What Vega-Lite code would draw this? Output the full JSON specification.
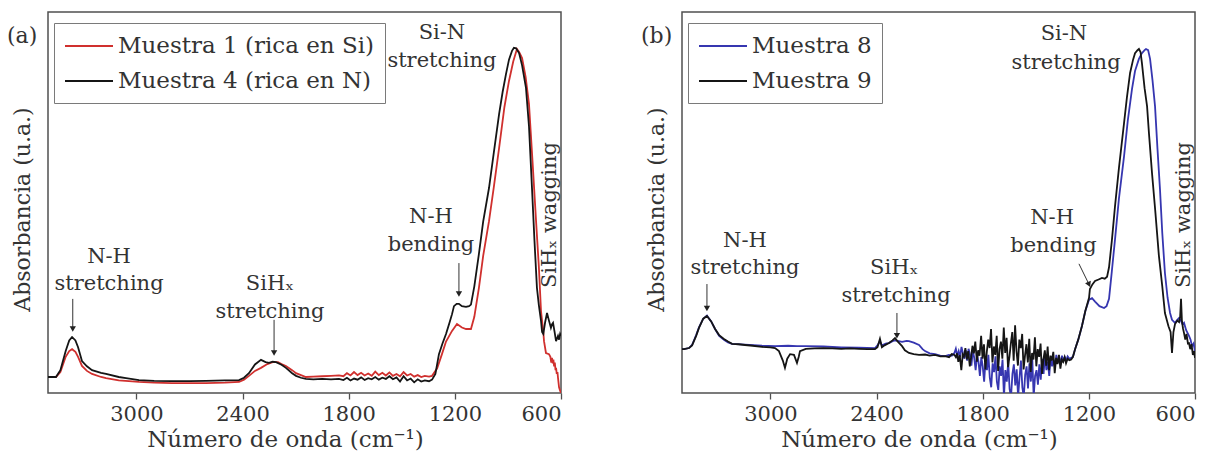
{
  "$schema": "https://vega.github.io/schema/vega-lite/v6.json",
  "background": "white",
  "padding": {"left": 6, "top": 11, "right": 8, "bottom": 4},
  "config": {
    "font": "DejaVu Serif",
    "view": {"stroke": "#505050", "strokeWidth": 1.5},
    "axis": {"grid": false, "labelFont": "DejaVu Serif", "titleFont": "DejaVu Serif", "labelColor": "#333333", "titleColor": "#333333", "titleFontWeight": "normal"},
    "axisX": {"domain": false, "tickColor": "#505050", "tickSize": 6, "tickWidth": 1.3, "labelFontSize": 21, "labelPadding": 4, "titleFontSize": 23, "titlePadding": 4, "format": "d", "titleX": 237, "titleAlign": "center"},
    "axisY": {"domain": false, "ticks": false, "labels": false, "titleFontSize": 22, "titlePadding": 14, "titleY": 197},
    "legend": {
      "orient": "none", "legendX": 6, "legendY": 11, "padding": 10,
      "strokeColor": "#7a7a7a", "fillColor": "white", "cornerRadius": 0,
      "symbolType": "M-2,0H2", "symbolSize": 576, "symbolStrokeWidth": 2, "symbolOffset": 12,
      "labelOffset": 16, "labelFont": "DejaVu Serif", "labelFontSize": 23, "labelColor": "#333333",
      "labelLimit": 400, "rowPadding": 10
    },
    "title": {"font": "DejaVu Serif", "fontSize": 22, "fontWeight": "normal", "color": "#333333", "anchor": "start", "frame": "group"},
    "concat": {"spacing": 77}
  },
  "resolve": {"scale": {"color": "independent", "x": "independent", "y": "independent"}, "legend": {"color": "independent"}},
  "datasets": {
    "m1": [
      {"nu":3500,"abs":0.042},{"nu":3455,"abs":0.042},{"nu":3430,"abs":0.055},{"nu":3400,"abs":0.095},{"nu":3380,"abs":0.11},{"nu":3364,"abs":0.115},{"nu":3345,"abs":0.108},{"nu":3330,"abs":0.095},{"nu":3308,"abs":0.071},{"nu":3280,"abs":0.058},{"nu":3251,"abs":0.05},{"nu":3200,"abs":0.042},{"nu":3172,"abs":0.039},{"nu":3100,"abs":0.033},{"nu":2986,"abs":0.029},{"nu":2900,"abs":0.027},{"nu":2800,"abs":0.026},{"nu":2700,"abs":0.026},{"nu":2607,"abs":0.026},{"nu":2500,"abs":0.027},{"nu":2420,"abs":0.029},{"nu":2392,"abs":0.035},{"nu":2364,"abs":0.045},{"nu":2330,"abs":0.058},{"nu":2296,"abs":0.066},{"nu":2260,"abs":0.076},{"nu":2230,"abs":0.081},{"nu":2200,"abs":0.081},{"nu":2180,"abs":0.076},{"nu":2155,"abs":0.071},{"nu":2120,"abs":0.06},{"nu":2098,"abs":0.052},{"nu":2070,"abs":0.047},{"nu":2042,"abs":0.042},{"nu":2000,"abs":0.043},{"nu":1950,"abs":0.044},{"nu":1900,"abs":0.045},{"nu":1855,"abs":0.046},
      {"nu":1830,"abs":0.044},{"nu":1810,"abs":0.052},{"nu":1790,"abs":0.046},{"nu":1770,"abs":0.055},{"nu":1750,"abs":0.047},{"nu":1730,"abs":0.053},{"nu":1710,"abs":0.046},{"nu":1690,"abs":0.051},{"nu":1670,"abs":0.045},{"nu":1650,"abs":0.056},{"nu":1630,"abs":0.047},{"nu":1610,"abs":0.053},{"nu":1590,"abs":0.046},{"nu":1570,"abs":0.054},{"nu":1550,"abs":0.045},{"nu":1530,"abs":0.05},{"nu":1510,"abs":0.044},{"nu":1490,"abs":0.055},{"nu":1470,"abs":0.046},{"nu":1450,"abs":0.05},{"nu":1430,"abs":0.043},{"nu":1410,"abs":0.047},{"nu":1390,"abs":0.042},{"nu":1370,"abs":0.045},{"nu":1346,"abs":0.043},
      {"nu":1329,"abs":0.045},{"nu":1300,"abs":0.065},{"nu":1273,"abs":0.102},{"nu":1250,"abs":0.135},{"nu":1216,"abs":0.163},{"nu":1188,"abs":0.181},{"nu":1160,"abs":0.172},{"nu":1137,"abs":0.168},{"nu":1109,"abs":0.168},{"nu":1090,"abs":0.2},{"nu":1064,"abs":0.276},{"nu":1040,"abs":0.36},{"nu":1007,"abs":0.451},{"nu":980,"abs":0.54},{"nu":950,"abs":0.643},{"nu":920,"abs":0.75},{"nu":894,"abs":0.819},{"nu":870,"abs":0.87},{"nu":854,"abs":0.895},{"nu":849,"abs":0.903},{"nu":837,"abs":0.895},{"nu":820,"abs":0.879},{"nu":800,"abs":0.83},{"nu":781,"abs":0.759},{"nu":760,"abs":0.6},{"nu":741,"abs":0.451},{"nu":725,"abs":0.33},{"nu":713,"abs":0.215},{"nu":700,"abs":0.16},{"nu":696,"abs":0.136},{"nu":685,"abs":0.105},{"nu":668,"abs":0.102},{"nu":660,"abs":0.095},{"nu":655,"abs":0.08},{"nu":651,"abs":0.092},{"nu":647,"abs":0.078},{"nu":643,"abs":0.088},{"nu":639,"abs":0.07},{"nu":635,"abs":0.08},{"nu":631,"abs":0.06},{"nu":628,"abs":0.066},{"nu":624,"abs":0.05},{"nu":620,"abs":0.055},{"nu":617,"abs":0.04},{"nu":611,"abs":0.015},{"nu":605,"abs":0.006},{"nu":600,"abs":0.0}
    ],
    "m4": [
      {"nu":3500,"abs":0.042},{"nu":3455,"abs":0.042},{"nu":3430,"abs":0.06},{"nu":3400,"abs":0.11},{"nu":3380,"abs":0.138},{"nu":3364,"abs":0.147},{"nu":3345,"abs":0.138},{"nu":3330,"abs":0.12},{"nu":3308,"abs":0.084},{"nu":3280,"abs":0.07},{"nu":3251,"abs":0.06},{"nu":3200,"abs":0.053},{"nu":3172,"abs":0.05},{"nu":3100,"abs":0.042},{"nu":3059,"abs":0.039},{"nu":2986,"abs":0.034},{"nu":2900,"abs":0.032},{"nu":2800,"abs":0.031},{"nu":2700,"abs":0.031},{"nu":2607,"abs":0.032},{"nu":2500,"abs":0.033},{"nu":2420,"abs":0.034},{"nu":2392,"abs":0.04},{"nu":2364,"abs":0.052},{"nu":2330,"abs":0.075},{"nu":2296,"abs":0.087},{"nu":2270,"abs":0.081},{"nu":2251,"abs":0.079},{"nu":2230,"abs":0.082},{"nu":2211,"abs":0.081},{"nu":2180,"abs":0.074},{"nu":2155,"abs":0.066},{"nu":2120,"abs":0.052},{"nu":2098,"abs":0.045},{"nu":2070,"abs":0.04},{"nu":2042,"abs":0.037},{"nu":2000,"abs":0.036},{"nu":1950,"abs":0.037},{"nu":1900,"abs":0.036},{"nu":1855,"abs":0.037},
      {"nu":1830,"abs":0.034},{"nu":1810,"abs":0.04},{"nu":1790,"abs":0.033},{"nu":1770,"abs":0.038},{"nu":1750,"abs":0.035},{"nu":1730,"abs":0.041},{"nu":1710,"abs":0.034},{"nu":1690,"abs":0.039},{"nu":1670,"abs":0.036},{"nu":1650,"abs":0.042},{"nu":1630,"abs":0.035},{"nu":1610,"abs":0.04},{"nu":1590,"abs":0.037},{"nu":1570,"abs":0.044},{"nu":1550,"abs":0.036},{"nu":1530,"abs":0.041},{"nu":1510,"abs":0.03},{"nu":1490,"abs":0.044},{"nu":1470,"abs":0.033},{"nu":1450,"abs":0.038},{"nu":1430,"abs":0.028},{"nu":1410,"abs":0.036},{"nu":1390,"abs":0.03},{"nu":1370,"abs":0.033},{"nu":1346,"abs":0.031},
      {"nu":1329,"abs":0.035},{"nu":1310,"abs":0.05},{"nu":1290,"abs":0.102},{"nu":1270,"abs":0.13},{"nu":1250,"abs":0.155},{"nu":1230,"abs":0.185},{"nu":1216,"abs":0.207},{"nu":1205,"abs":0.228},{"nu":1190,"abs":0.234},{"nu":1177,"abs":0.234},{"nu":1160,"abs":0.228},{"nu":1137,"abs":0.226},{"nu":1120,"abs":0.228},{"nu":1109,"abs":0.232},{"nu":1090,"abs":0.28},{"nu":1064,"abs":0.365},{"nu":1040,"abs":0.45},{"nu":1007,"abs":0.538},{"nu":980,"abs":0.63},{"nu":950,"abs":0.732},{"nu":930,"abs":0.79},{"nu":911,"abs":0.837},{"nu":894,"abs":0.875},{"nu":877,"abs":0.898},{"nu":866,"abs":0.906},{"nu":854,"abs":0.905},{"nu":837,"abs":0.892},{"nu":820,"abs":0.86},{"nu":798,"abs":0.801},{"nu":781,"abs":0.7},{"nu":764,"abs":0.538},{"nu":750,"abs":0.4},{"nu":736,"abs":0.276},{"nu":725,"abs":0.23},{"nu":713,"abs":0.189},{"nu":707,"abs":0.16},{"nu":700,"abs":0.155},{"nu":690,"abs":0.185},{"nu":679,"abs":0.21},{"nu":668,"abs":0.19},{"nu":657,"abs":0.171},{"nu":651,"abs":0.18},{"nu":645,"abs":0.184},{"nu":636,"abs":0.16},{"nu":628,"abs":0.136},{"nu":617,"abs":0.15},{"nu":611,"abs":0.14},{"nu":605,"abs":0.155},{"nu":600,"abs":0.15}
    ],
    "m8": [
      {"nu":3500,"abs":0.115},{"nu":3489,"abs":0.115},{"nu":3460,"abs":0.118},{"nu":3443,"abs":0.126},{"nu":3420,"abs":0.152},{"nu":3404,"abs":0.172},{"nu":3380,"abs":0.195},{"nu":3359,"abs":0.203},{"nu":3335,"abs":0.188},{"nu":3313,"abs":0.168},{"nu":3290,"abs":0.15},{"nu":3263,"abs":0.14},{"nu":3240,"abs":0.133},{"nu":3217,"abs":0.129},{"nu":3144,"abs":0.127},{"nu":3048,"abs":0.124},{"nu":2974,"abs":0.123},{"nu":2900,"abs":0.124},{"nu":2850,"abs":0.123},{"nu":2800,"abs":0.123},{"nu":2700,"abs":0.122},{"nu":2600,"abs":0.12},{"nu":2500,"abs":0.119},{"nu":2409,"abs":0.118},{"nu":2395,"abs":0.125},{"nu":2381,"abs":0.136},{"nu":2370,"abs":0.125},{"nu":2345,"abs":0.13},{"nu":2330,"abs":0.131},{"nu":2310,"abs":0.136},{"nu":2296,"abs":0.138},{"nu":2275,"abs":0.136},{"nu":2256,"abs":0.134},{"nu":2230,"abs":0.137},{"nu":2217,"abs":0.136},{"nu":2190,"abs":0.132},{"nu":2160,"abs":0.126},{"nu":2140,"abs":0.115},{"nu":2126,"abs":0.11},{"nu":2100,"abs":0.104},{"nu":2070,"abs":0.102},{"nu":2040,"abs":0.098},{"nu":2013,"abs":0.097},{"nu":1991,"abs":0.1},{"nu":1975,"abs":0.098},
      {"nu":1960,"abs":0.105},{"nu":1952,"abs":0.116},{"nu":1944,"abs":0.098},{"nu":1936,"abs":0.11},{"nu":1928,"abs":0.094},{"nu":1920,"abs":0.121},{"nu":1912,"abs":0.104},{"nu":1904,"abs":0.09},{"nu":1896,"abs":0.112},{"nu":1888,"abs":0.085},{"nu":1880,"abs":0.116},{"nu":1872,"abs":0.1},{"nu":1864,"abs":0.072},{"nu":1856,"abs":0.112},{"nu":1848,"abs":0.092},{"nu":1840,"abs":0.06},{"nu":1832,"abs":0.1},{"nu":1824,"abs":0.082},{"nu":1816,"abs":0.045},{"nu":1808,"abs":0.094},{"nu":1800,"abs":0.07},{"nu":1792,"abs":0.03},{"nu":1784,"abs":0.086},{"nu":1776,"abs":0.06},{"nu":1768,"abs":0.1},{"nu":1760,"abs":0.04},{"nu":1752,"abs":0.015},{"nu":1744,"abs":0.078},{"nu":1736,"abs":0.055},{"nu":1728,"abs":0.096},{"nu":1720,"abs":0.03},{"nu":1712,"abs":0.008},{"nu":1704,"abs":0.07},{"nu":1696,"abs":0.045},{"nu":1688,"abs":0.088},{"nu":1680,"abs":-0.01},{"nu":1672,"abs":0.06},{"nu":1664,"abs":0.03},{"nu":1656,"abs":0.082},{"nu":1648,"abs":0.01},{"nu":1640,"abs":-0.01},{"nu":1632,"abs":0.05},{"nu":1624,"abs":0.075},{"nu":1616,"abs":0.02},{"nu":1608,"abs":0.062},{"nu":1600,"abs":-0.01},{"nu":1592,"abs":0.04},{"nu":1584,"abs":0.085},{"nu":1576,"abs":0.015},{"nu":1568,"abs":-0.01},{"nu":1560,"abs":0.048},{"nu":1552,"abs":0.07},{"nu":1544,"abs":0.012},{"nu":1536,"abs":0.078},{"nu":1528,"abs":0.03},{"nu":1520,"abs":0.092},{"nu":1512,"abs":-0.01},{"nu":1504,"abs":0.045},{"nu":1496,"abs":0.06},{"nu":1488,"abs":0.022},{"nu":1480,"abs":0.075},{"nu":1472,"abs":0.035},{"nu":1464,"abs":0.09},{"nu":1456,"abs":0.05},{"nu":1448,"abs":0.1},{"nu":1440,"abs":0.06},{"nu":1432,"abs":0.082},{"nu":1424,"abs":0.045},{"nu":1416,"abs":0.095},{"nu":1408,"abs":0.07},{"nu":1400,"abs":0.088},{"nu":1392,"abs":0.068},{"nu":1384,"abs":0.1},{"nu":1376,"abs":0.08},{"nu":1368,"abs":0.094},{"nu":1360,"abs":0.076},{"nu":1352,"abs":0.098},{"nu":1344,"abs":0.085},{"nu":1336,"abs":0.094},{"nu":1328,"abs":0.086},{"nu":1320,"abs":0.096},{"nu":1310,"abs":0.09},{"nu":1300,"abs":0.092},{"nu":1290,"abs":0.095},
      {"nu":1278,"abs":0.115},{"nu":1260,"abs":0.14},{"nu":1239,"abs":0.176},{"nu":1220,"abs":0.215},{"nu":1199,"abs":0.245},{"nu":1182,"abs":0.249},{"nu":1165,"abs":0.24},{"nu":1140,"abs":0.228},{"nu":1114,"abs":0.223},{"nu":1100,"abs":0.228},{"nu":1086,"abs":0.247},{"nu":1070,"abs":0.32},{"nu":1052,"abs":0.404},{"nu":1030,"abs":0.51},{"nu":1001,"abs":0.622},{"nu":980,"abs":0.715},{"nu":956,"abs":0.798},{"nu":939,"abs":0.845},{"nu":917,"abs":0.877},{"nu":900,"abs":0.892},{"nu":885,"abs":0.9},{"nu":877,"abs":0.903},{"nu":865,"abs":0.9},{"nu":854,"abs":0.877},{"nu":840,"abs":0.82},{"nu":826,"abs":0.753},{"nu":812,"abs":0.64},{"nu":798,"abs":0.535},{"nu":785,"abs":0.42},{"nu":770,"abs":0.315},{"nu":755,"abs":0.25},{"nu":741,"abs":0.21},{"nu":730,"abs":0.192},{"nu":713,"abs":0.184},{"nu":700,"abs":0.192},{"nu":690,"abs":0.197},{"nu":680,"abs":0.19},{"nu":670,"abs":0.18},{"nu":662,"abs":0.184},{"nu":650,"abs":0.165},{"nu":634,"abs":0.15},{"nu":625,"abs":0.14},{"nu":617,"abs":0.123},{"nu":608,"abs":0.13},{"nu":600,"abs":0.11}
    ],
    "m9": [
      {"nu":3500,"abs":0.115},{"nu":3489,"abs":0.115},{"nu":3460,"abs":0.118},{"nu":3443,"abs":0.125},{"nu":3420,"abs":0.15},{"nu":3404,"abs":0.171},{"nu":3380,"abs":0.195},{"nu":3359,"abs":0.202},{"nu":3335,"abs":0.188},{"nu":3313,"abs":0.168},{"nu":3290,"abs":0.152},{"nu":3263,"abs":0.142},{"nu":3240,"abs":0.135},{"nu":3217,"abs":0.129},{"nu":3180,"abs":0.128},{"nu":3144,"abs":0.126},{"nu":3100,"abs":0.124},{"nu":3048,"abs":0.121},{"nu":3000,"abs":0.12},{"nu":2974,"abs":0.118},{"nu":2952,"abs":0.11},{"nu":2930,"abs":0.085},{"nu":2918,"abs":0.066},{"nu":2905,"abs":0.09},{"nu":2889,"abs":0.102},{"nu":2867,"abs":0.1},{"nu":2850,"abs":0.079},{"nu":2840,"abs":0.095},{"nu":2833,"abs":0.11},{"nu":2800,"abs":0.116},{"nu":2750,"abs":0.117},{"nu":2700,"abs":0.118},{"nu":2650,"abs":0.117},{"nu":2600,"abs":0.116},{"nu":2550,"abs":0.117},{"nu":2500,"abs":0.116},{"nu":2450,"abs":0.115},{"nu":2409,"abs":0.115},{"nu":2395,"abs":0.12},{"nu":2381,"abs":0.142},{"nu":2370,"abs":0.12},{"nu":2355,"abs":0.125},{"nu":2330,"abs":0.131},{"nu":2310,"abs":0.138},{"nu":2296,"abs":0.144},{"nu":2280,"abs":0.135},{"nu":2256,"abs":0.123},{"nu":2240,"abs":0.112},{"nu":2217,"abs":0.105},{"nu":2190,"abs":0.102},{"nu":2160,"abs":0.1},{"nu":2126,"abs":0.101},{"nu":2100,"abs":0.098},{"nu":2070,"abs":0.1},{"nu":2040,"abs":0.096},{"nu":2013,"abs":0.097},{"nu":1990,"abs":0.094},{"nu":1975,"abs":0.102},
      {"nu":1960,"abs":0.1},{"nu":1952,"abs":0.094},{"nu":1945,"abs":0.104},{"nu":1938,"abs":0.082},{"nu":1930,"abs":0.099},{"nu":1921,"abs":0.06},{"nu":1913,"abs":0.101},{"nu":1906,"abs":0.096},{"nu":1898,"abs":0.118},{"nu":1890,"abs":0.088},{"nu":1882,"abs":0.11},{"nu":1873,"abs":0.07},{"nu":1866,"abs":0.092},{"nu":1858,"abs":0.124},{"nu":1850,"abs":0.104},{"nu":1842,"abs":0.135},{"nu":1833,"abs":0.082},{"nu":1826,"abs":0.112},{"nu":1818,"abs":0.098},{"nu":1809,"abs":0.15},{"nu":1801,"abs":0.09},{"nu":1793,"abs":0.128},{"nu":1785,"abs":0.062},{"nu":1777,"abs":0.108},{"nu":1769,"abs":0.14},{"nu":1761,"abs":0.118},{"nu":1753,"abs":0.168},{"nu":1745,"abs":0.08},{"nu":1737,"abs":0.122},{"nu":1729,"abs":0.1},{"nu":1721,"abs":0.15},{"nu":1713,"abs":0.058},{"nu":1705,"abs":0.115},{"nu":1697,"abs":0.135},{"nu":1689,"abs":0.09},{"nu":1681,"abs":0.172},{"nu":1673,"abs":0.105},{"nu":1665,"abs":0.145},{"nu":1657,"abs":0.068},{"nu":1649,"abs":0.095},{"nu":1641,"abs":0.13},{"nu":1633,"abs":0.16},{"nu":1625,"abs":0.085},{"nu":1617,"abs":0.178},{"nu":1609,"abs":0.11},{"nu":1601,"abs":0.072},{"nu":1593,"abs":0.14},{"nu":1585,"abs":0.118},{"nu":1577,"abs":0.155},{"nu":1569,"abs":0.062},{"nu":1561,"abs":0.098},{"nu":1553,"abs":0.128},{"nu":1545,"abs":0.08},{"nu":1537,"abs":0.142},{"nu":1529,"abs":0.055},{"nu":1521,"abs":0.105},{"nu":1513,"abs":0.088},{"nu":1505,"abs":0.146},{"nu":1497,"abs":0.07},{"nu":1489,"abs":0.115},{"nu":1481,"abs":0.095},{"nu":1473,"abs":0.13},{"nu":1465,"abs":0.05},{"nu":1457,"abs":0.088},{"nu":1449,"abs":0.112},{"nu":1441,"abs":0.072},{"nu":1433,"abs":0.122},{"nu":1425,"abs":0.06},{"nu":1417,"abs":0.098},{"nu":1409,"abs":0.085},{"nu":1401,"abs":0.108},{"nu":1393,"abs":0.052},{"nu":1385,"abs":0.092},{"nu":1377,"abs":0.076},{"nu":1369,"abs":0.1},{"nu":1361,"abs":0.064},{"nu":1353,"abs":0.088},{"nu":1345,"abs":0.082},{"nu":1337,"abs":0.094},{"nu":1329,"abs":0.078},{"nu":1320,"abs":0.09},{"nu":1310,"abs":0.086},{"nu":1300,"abs":0.088},{"nu":1290,"abs":0.095},
      {"nu":1278,"abs":0.115},{"nu":1260,"abs":0.14},{"nu":1239,"abs":0.176},{"nu":1220,"abs":0.215},{"nu":1199,"abs":0.25},{"nu":1194,"abs":0.273},{"nu":1180,"abs":0.285},{"nu":1165,"abs":0.294},{"nu":1145,"abs":0.298},{"nu":1126,"abs":0.302},{"nu":1110,"abs":0.3},{"nu":1097,"abs":0.305},{"nu":1086,"abs":0.33},{"nu":1070,"abs":0.4},{"nu":1052,"abs":0.491},{"nu":1030,"abs":0.59},{"nu":1001,"abs":0.709},{"nu":985,"abs":0.775},{"nu":967,"abs":0.84},{"nu":950,"abs":0.875},{"nu":939,"abs":0.892},{"nu":925,"abs":0.9},{"nu":917,"abs":0.903},{"nu":908,"abs":0.895},{"nu":900,"abs":0.866},{"nu":885,"abs":0.8},{"nu":871,"abs":0.753},{"nu":860,"abs":0.68},{"nu":843,"abs":0.577},{"nu":825,"abs":0.48},{"nu":804,"abs":0.36},{"nu":785,"abs":0.28},{"nu":770,"abs":0.21},{"nu":750,"abs":0.175},{"nu":738,"abs":0.16},{"nu":730,"abs":0.105},{"nu":722,"abs":0.16},{"nu":713,"abs":0.181},{"nu":700,"abs":0.19},{"nu":690,"abs":0.186},{"nu":684,"abs":0.2},{"nu":679,"abs":0.247},{"nu":674,"abs":0.19},{"nu":668,"abs":0.17},{"nu":662,"abs":0.157},{"nu":655,"abs":0.14},{"nu":648,"abs":0.155},{"nu":640,"abs":0.13},{"nu":634,"abs":0.131},{"nu":627,"abs":0.115},{"nu":620,"abs":0.128},{"nu":612,"abs":0.1},{"nu":605,"abs":0.11},{"nu":600,"abs":0.092}
    ],
    "notasA": [
      {"texto":"N-H","nu":3155,"abs":0.357},{"texto":"stretching","nu":3155,"abs":0.286},
      {"texto":"SiHₓ","nu":2245,"abs":0.286},{"texto":"stretching","nu":2245,"abs":0.213},
      {"texto":"N-H","nu":1335,"abs":0.462},{"texto":"bending","nu":1335,"abs":0.388},
      {"texto":"Si-N","nu":1273,"abs":0.945},{"texto":"stretching","nu":1273,"abs":0.871}
    ],
    "verticalA": [{"texto":"SiHₓ wagging","nu":662,"abs":0.467}],
    "flechasA": [
      {"nu":3360,"abs":0.247,"nu2":3360,"abs2":0.168,"ang":0},
      {"nu":2222,"abs":0.192,"nu2":2222,"abs2":0.105,"ang":0},
      {"nu":1177,"abs":0.341,"nu2":1177,"abs2":0.26,"ang":0}
    ],
    "notasB": [
      {"texto":"N-H","nu":3144,"abs":0.399},{"texto":"stretching","nu":3144,"abs":0.328},
      {"texto":"SiHₓ","nu":2300,"abs":0.328},{"texto":"stretching","nu":2290,"abs":0.255},
      {"texto":"N-H","nu":1408,"abs":0.459},{"texto":"bending","nu":1400,"abs":0.386},
      {"texto":"Si-N","nu":1341,"abs":0.942},{"texto":"stretching","nu":1329,"abs":0.866}
    ],
    "verticalB": [{"texto":"SiHₓ wagging","nu":664,"abs":0.467}],
    "flechasB": [
      {"nu":3359,"abs":0.286,"nu2":3359,"abs2":0.222,"ang":0},
      {"nu":2285,"abs":0.21,"nu2":2285,"abs2":0.15,"ang":0},
      {"nu":1256,"abs":0.339,"nu2":1199,"abs2":0.285,"ang":-24}
    ]
  },
  "hconcat": [
    {
      "width": 513, "height": 381,
      "title": {"text": "(a)", "dx": -41, "dy": 40},
      "layer": [
        {
          "data": {"name": "m1"},
          "mark": {"type": "line", "strokeWidth": 1.8, "clip": true},
          "encoding": {
            "x": {"field": "nu", "type": "quantitative", "scale": {"domain": [600, 3500], "reverse": true, "nice": false, "zero": false}, "axis": {"values": [3000, 2400, 1800, 1200, 600], "title": "Número de onda (cm⁻¹)"}},
            "y": {"field": "abs", "type": "quantitative", "scale": {"domain": [0, 1], "nice": false}, "axis": {"title": "Absorbancia (u.a.)"}},
            "color": {"datum": "Muestra 1 (rica en Si)", "type": "nominal", "scale": {"domain": ["Muestra 1 (rica en Si)", "Muestra 4 (rica en N)"], "range": ["#d0302e", "#151515"]}, "legend": {"title": null}}
          }
        },
        {
          "data": {"name": "m4"},
          "mark": {"type": "line", "strokeWidth": 1.8, "clip": true},
          "encoding": {
            "x": {"field": "nu", "type": "quantitative"},
            "y": {"field": "abs", "type": "quantitative"},
            "color": {"datum": "Muestra 4 (rica en N)", "type": "nominal"}
          }
        },
        {
          "data": {"name": "notasA"},
          "mark": {"type": "text", "fontSize": 21, "color": "#333333", "align": "center", "baseline": "middle"},
          "encoding": {
            "x": {"field": "nu", "type": "quantitative"},
            "y": {"field": "abs", "type": "quantitative"},
            "text": {"field": "texto"}
          }
        },
        {
          "data": {"name": "verticalA"},
          "mark": {"type": "text", "fontSize": 21, "color": "#333333", "align": "center", "baseline": "middle", "angle": 270},
          "encoding": {
            "x": {"field": "nu", "type": "quantitative"},
            "y": {"field": "abs", "type": "quantitative"},
            "text": {"field": "texto"}
          }
        },
        {
          "data": {"name": "flechasA"},
          "mark": {"type": "rule", "color": "#333333", "strokeWidth": 1},
          "encoding": {
            "x": {"field": "nu", "type": "quantitative"},
            "y": {"field": "abs", "type": "quantitative"},
            "x2": {"field": "nu2"},
            "y2": {"field": "abs2"}
          }
        },
        {
          "data": {"name": "flechasA"},
          "mark": {"type": "point", "shape": "triangle-down", "filled": true, "size": 40, "color": "#222222", "opacity": 1},
          "encoding": {
            "x": {"field": "nu2", "type": "quantitative"},
            "y": {"field": "abs2", "type": "quantitative"},
            "angle": {"field": "ang", "type": "quantitative", "scale": null}
          }
        }
      ]
    },
    {
      "width": 513, "height": 381,
      "title": {"text": "(b)", "dx": -41, "dy": 40},
      "layer": [
        {
          "data": {"name": "m8"},
          "mark": {"type": "line", "strokeWidth": 1.8, "clip": true},
          "encoding": {
            "x": {"field": "nu", "type": "quantitative", "scale": {"domain": [600, 3500], "reverse": true, "nice": false, "zero": false}, "axis": {"values": [3000, 2400, 1800, 1200, 600], "title": "Número de onda (cm⁻¹)"}},
            "y": {"field": "abs", "type": "quantitative", "scale": {"domain": [0, 1], "nice": false}, "axis": {"title": "Absorbancia (u.a.)"}},
            "color": {"datum": "Muestra 8", "type": "nominal", "scale": {"domain": ["Muestra 8", "Muestra 9"], "range": ["#3636b0", "#151515"]}, "legend": {"title": null}}
          }
        },
        {
          "data": {"name": "m9"},
          "mark": {"type": "line", "strokeWidth": 1.8, "clip": true},
          "encoding": {
            "x": {"field": "nu", "type": "quantitative"},
            "y": {"field": "abs", "type": "quantitative"},
            "color": {"datum": "Muestra 9", "type": "nominal"}
          }
        },
        {
          "data": {"name": "notasB"},
          "mark": {"type": "text", "fontSize": 21, "color": "#333333", "align": "center", "baseline": "middle"},
          "encoding": {
            "x": {"field": "nu", "type": "quantitative"},
            "y": {"field": "abs", "type": "quantitative"},
            "text": {"field": "texto"}
          }
        },
        {
          "data": {"name": "verticalB"},
          "mark": {"type": "text", "fontSize": 21, "color": "#333333", "align": "center", "baseline": "middle", "angle": 270},
          "encoding": {
            "x": {"field": "nu", "type": "quantitative"},
            "y": {"field": "abs", "type": "quantitative"},
            "text": {"field": "texto"}
          }
        },
        {
          "data": {"name": "flechasB"},
          "mark": {"type": "rule", "color": "#333333", "strokeWidth": 1},
          "encoding": {
            "x": {"field": "nu", "type": "quantitative"},
            "y": {"field": "abs", "type": "quantitative"},
            "x2": {"field": "nu2"},
            "y2": {"field": "abs2"}
          }
        },
        {
          "data": {"name": "flechasB"},
          "mark": {"type": "point", "shape": "triangle-down", "filled": true, "size": 40, "color": "#222222", "opacity": 1},
          "encoding": {
            "x": {"field": "nu2", "type": "quantitative"},
            "y": {"field": "abs2", "type": "quantitative"},
            "angle": {"field": "ang", "type": "quantitative", "scale": null}
          }
        }
      ]
    }
  ]
}
